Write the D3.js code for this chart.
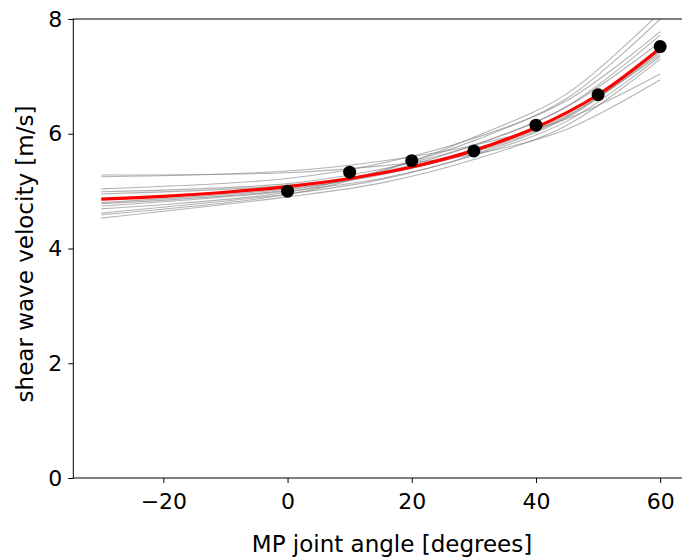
<!DOCTYPE html>
<html>
<head>
<meta charset="utf-8">
<script src="https://cdn.jsdelivr.net/npm/d3@7"></script>
<style>
  body { margin: 0; background: #fff; }
  text { font-family: "DejaVu Sans", sans-serif; fill: #000; }
</style>
</head>
<body>
<svg id="chart"></svg>
<script>
/* measured angles and mean velocities */
var angles = [0, 10, 20, 30, 40, 50, 60];
var velocities = [5.00, 5.33, 5.53, 5.70, 6.15, 6.68, 7.52];

/* red mean fit, sampled every 10 degrees */
var fitAngles = [-30, -20, -10, 0, 10, 20, 30, 40, 50, 60];
var fitValues = [4.86, 4.91, 4.98, 5.08, 5.22, 5.42, 5.71, 6.11, 6.68, 7.49];

/* individual fits (gray), sampled at these angles */
var subjAngles = [-30, 0, 15, 30, 45, 60];
var subj01 = [5.28, 5.32, 5.44, 5.64, 6.08, 6.94];
var subj02 = [5.25, 5.35, 5.52, 5.80, 6.26, 7.04];
var subj03 = [5.04, 5.22, 5.48, 5.92, 6.58, 7.78];
var subj04 = [4.99, 5.13, 5.38, 5.80, 6.48, 7.72];
var subj05 = [4.95, 5.10, 5.30, 5.68, 6.30, 7.45];
var subj06 = [4.80, 5.04, 5.28, 5.70, 6.32, 7.38];
var subj07 = [4.78, 5.02, 5.32, 5.80, 6.47, 7.60];
var subj08 = [4.74, 5.00, 5.22, 5.62, 6.22, 7.35];
var subj09 = [4.69, 4.98, 5.36, 5.88, 6.62, 8.00];
var subj10 = [4.62, 4.95, 5.20, 5.64, 6.28, 7.42];
var subj11 = [4.59, 4.94, 5.34, 5.94, 6.70, 8.12];
var subj12 = [4.53, 4.90, 5.14, 5.55, 6.15, 7.30];
var subjects = [subj01, subj02, subj03, subj04, subj05, subj06,
                subj07, subj08, subj09, subj10, subj11, subj12];

var xTicks = [-20, 0, 20, 40, 60];
var yTicks = [0, 2, 4, 6, 8];

var width = 682;
var height = 557;
var plotLeft = 73.3, plotRight = 711.7, plotTop = 19, plotBottom = 478;

var svg = d3.select('#chart')
    .attr('width', width)
    .attr('height', height);

var x = d3.scaleLinear().domain([-34.5, 68.3]).range([plotLeft, plotRight]);
var y = d3.scaleLinear().domain([0, 8]).range([plotBottom, plotTop]);

svg.append('clipPath').attr('id', 'plotclip')
    .append('rect')
    .attr('x', plotLeft).attr('y', plotTop)
    .attr('width', plotRight - plotLeft).attr('height', plotBottom - plotTop);

var plot = svg.append('g').attr('clip-path', 'url(#plotclip)');

var line = d3.line()
    .x(function(d){ return x(d[0]); })
    .y(function(d){ return y(d[1]); })
    .curve(d3.curveCatmullRom.alpha(0.5));

subjects.forEach(function(s){
    plot.append('path')
        .datum(subjAngles.map(function(a, i){ return [a, s[i]]; }))
        .attr('d', line)
        .attr('fill', 'none')
        .attr('stroke', '#808080')
        .attr('stroke-opacity', 0.6)
        .attr('stroke-width', 1.1);
});

plot.append('path')
    .datum(fitAngles.map(function(a, i){ return [a, fitValues[i]]; }))
    .attr('d', line)
    .attr('fill', 'none')
    .attr('stroke', '#ff0000')
    .attr('stroke-width', 3.2);

svg.selectAll('circle.pt')
    .data(angles)
    .enter()
    .append('circle')
    .attr('class', 'pt')
    .attr('cx', function(d){ return x(d); })
    .attr('cy', function(d, i){ return y(velocities[i]); })
    .attr('r', 6.5)
    .attr('fill', '#000');

/* axes */
var xAxis = d3.axisBottom(x).tickValues(xTicks).tickSize(5).tickPadding(10)
    .tickFormat(function(d){ return d < 0 ? '\u2212' + Math.abs(d) : d; });
var yAxis = d3.axisLeft(y).tickValues(yTicks).tickSize(5).tickPadding(6);

var gx = svg.append('g').attr('transform', 'translate(0,' + plotBottom + ')').call(xAxis);
var gy = svg.append('g').attr('transform', 'translate(' + plotLeft + ',0)').call(yAxis);
[gx, gy].forEach(function(g){
    g.select('.domain').remove();
    g.selectAll('line').attr('stroke', '#000').attr('stroke-width', 1);
    g.selectAll('text').style('font-size', '22px').style('font-family', 'DejaVu Sans');
});

/* spines */
svg.append('rect')
    .attr('x', plotLeft).attr('y', plotTop)
    .attr('width', plotRight - plotLeft).attr('height', plotBottom - plotTop)
    .attr('fill', 'none')
    .attr('stroke', '#000')
    .attr('stroke-width', 1);

svg.append('text')
    .attr('x', 392)
    .attr('y', 552)
    .attr('text-anchor', 'middle')
    .style('font-size', '23px')
    .text('MP joint angle [degrees]');

svg.append('text')
    .attr('transform', 'translate(33,254) rotate(-90)')
    .attr('text-anchor', 'middle')
    .style('font-size', '23px')
    .text('shear wave velocity [m/s]');
</script>
</body>
</html>
